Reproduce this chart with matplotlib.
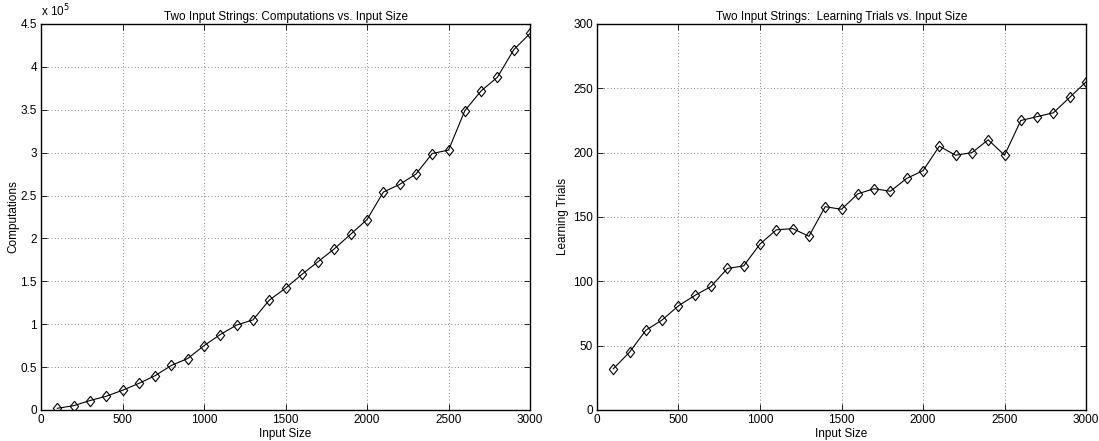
import matplotlib
matplotlib.use("Agg")
import matplotlib.pyplot as plt
from matplotlib.ticker import FuncFormatter

plt.rcParams['font.family'] = ['Liberation Sans', 'DejaVu Sans']

input_size = list(range(100, 3100, 100))
computations = [2000, 5000, 11000, 16000, 23000, 31000, 40000, 52000, 60000, 75000,
                88000, 99000, 105000, 128000, 142000, 158000, 173000, 188000, 205000, 222000,
                254000, 263000, 275000, 299000, 303000, 349000, 372000, 388000, 420000, 439000]
learning_trials = [32, 45, 62, 70, 81, 89, 96, 110, 112, 129,
                   140, 141, 135, 158, 156, 168, 172, 170, 180, 186,
                   205, 198, 200, 210, 198, 225, 228, 231, 243, 255]

titles = ["Two Input Strings: Computations vs. Input Size",
          "Two Input Strings:  Learning Trials vs. Input Size"]

diamond = [(0, 1), (0.8, 0), (0, -1), (-0.8, 0), (0, 1)]

fig = plt.figure(figsize=(10.99, 4.41), dpi=100)
ax1 = fig.add_axes([0.0373, 0.0703, 0.4450, 0.8753])
ax2 = fig.add_axes([0.5432, 0.0703, 0.4450, 0.8753])

fs = 8.5

def style(ax):
    ax.set_xlim(0, 3000)
    ax.set_xticks([0, 500, 1000, 1500, 2000, 2500, 3000])
    ax.grid(True, color='0.35', linestyle=(0, (1, 3)), linewidth=0.6)
    ax.tick_params(direction='in', top=True, right=True, labelsize=fs, length=4, width=0.6, pad=3)
    for s in ax.spines.values():
        s.set_linewidth(1.0)
    ax.set_xlabel("Input Size", fontsize=fs, labelpad=1)

mk = dict(color='black', linewidth=0.8, marker=diamond, markersize=7.5,
          markerfacecolor='none', markeredgecolor='black', markeredgewidth=0.8)

ax1.plot(input_size, computations, **mk)
style(ax1)
ax1.set_ylim(0, 450000)
ax1.set_yticks([i * 50000 for i in range(10)])
ax1.yaxis.set_major_formatter(FuncFormatter(lambda v, p: f"{v/1e5:g}"))
ax1.set_ylabel("Computations", fontsize=fs, labelpad=1)
ax1.set_title(titles[0], fontsize=fs, pad=3)
ax1.text(0.0, 1.012, r"x 10$^{5}$", transform=ax1.transAxes, fontsize=fs, ha='left', va='bottom')

ax2.plot(input_size, learning_trials, **mk)
style(ax2)
ax2.set_ylim(0, 300)
ax2.set_yticks([0, 50, 100, 150, 200, 250, 300])
ax2.set_ylabel("Learning Trials", fontsize=fs, labelpad=3)
ax2.set_title(titles[1], fontsize=fs, pad=3)

fig.savefig("out.png", dpi=100)
